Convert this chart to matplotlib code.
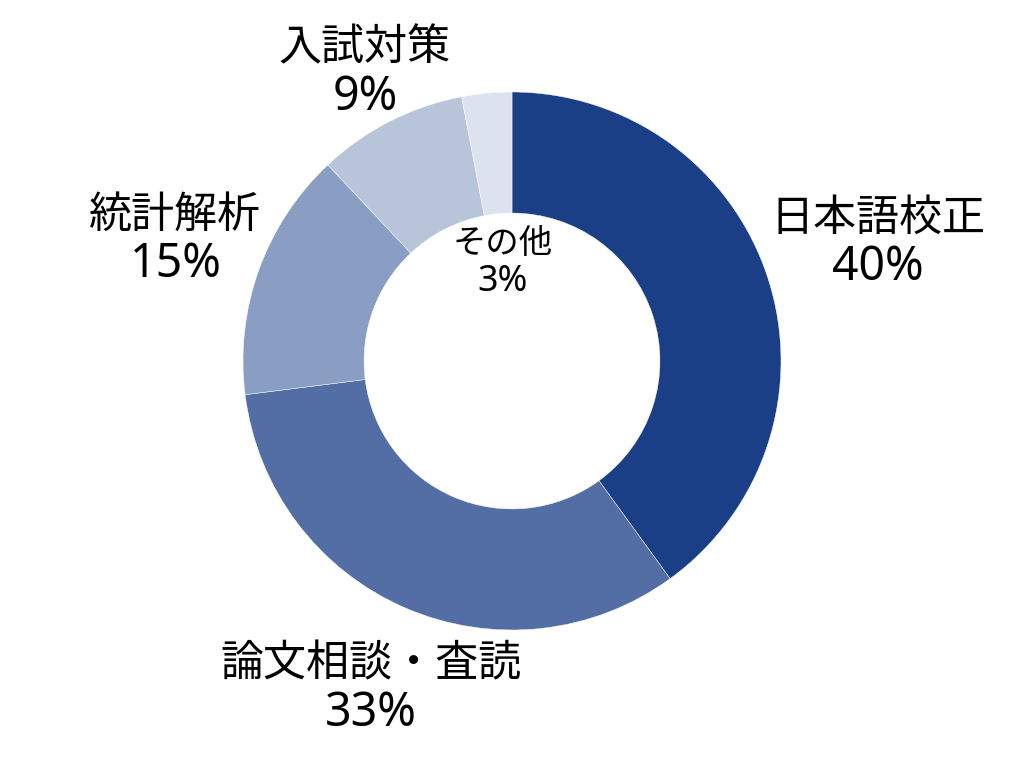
import numpy as np
import matplotlib
matplotlib.use('Agg')
import matplotlib.pyplot as plt

plt.rcParams['font.family'] = ['Noto Sans CJK JP', 'DejaVu Sans']

labels = ['日本語校正', '論文相談・査読', '統計解析', '入試対策', 'その他']
values = [40, 33, 15, 9, 3]
colors = ['#1a3f86', '#536ea5', '#8a9ec4', '#b7c4da', '#dde3ee']
label_dist = [1.43, 1.325, 1.33, 1.205, 0.37]
label_size = [31, 31, 31, 31, 24]

fig = plt.figure(figsize=(10.24, 7.68), dpi=100)
ax = fig.add_axes([0, 0, 1, 1])

wedges, _ = ax.pie(values, colors=colors, startangle=90, counterclock=False,
                   radius=1.0, wedgeprops=dict(width=0.45, edgecolor='white', linewidth=0.3))

for w, lab, v, d, fs in zip(wedges, labels, values, label_dist, label_size):
    ang = np.deg2rad((w.theta1 + w.theta2) / 2)
    x, y = d * np.cos(ang), d * np.sin(ang)
    off = fs * 0.55
    ax.annotate(lab, (x, y), xytext=(0, off), textcoords='offset points',
                ha='center', va='center', fontsize=fs, color='black')
    ax.annotate(f'{v}%', (x, y), xytext=(0, -off - 1), textcoords='offset points',
                ha='center', va='center', fontsize=fs * 1.08, color='black',
                family=['Noto Sans', 'DejaVu Sans'])

ax.set_xlim(-1024 / 269 / 2, 1024 / 269 / 2)
ax.set_ylim(-407 / 269, 361 / 269)
ax.set_aspect('equal')
ax.axis('off')

fig.savefig('out.png', dpi=100)
